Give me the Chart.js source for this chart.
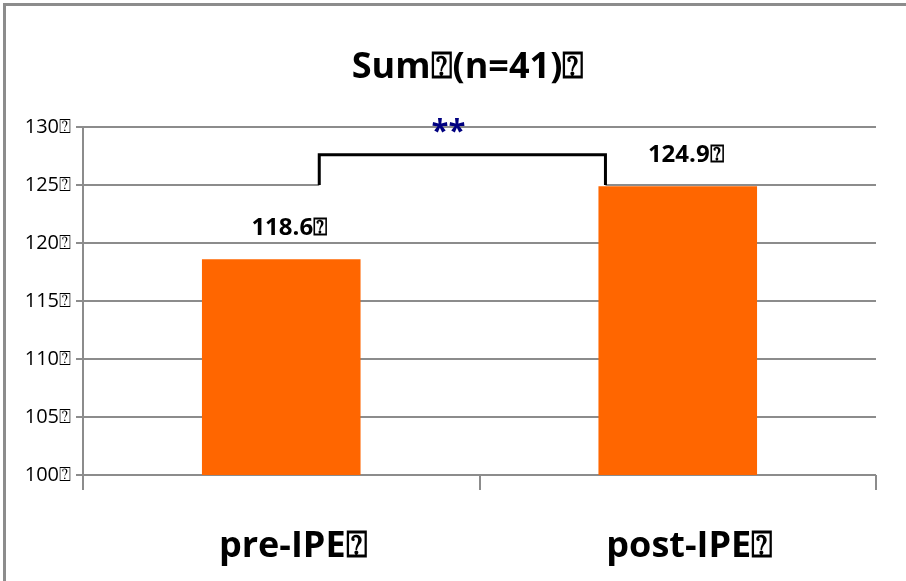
<!DOCTYPE html>
<html>
<head>
<meta charset="utf-8">
<script src="https://cdn.jsdelivr.net/npm/chart.js@4/dist/chart.umd.min.js"></script>
<style>
  html, body { margin: 0; padding: 0; background: #fff; overflow: hidden; }
  #wrap { position: relative; width: 906px; height: 581px; }
  #frame {
    position: absolute; left: 3px; top: 3px; width: 920px; height: 575px;
    border-left: 3px solid #8c8c8c; border-top: 3px solid #8c8c8c;
    border-bottom: 1px solid #ececec; pointer-events: none;
  }
  canvas { position: absolute; left: 0; top: 0; }
</style>
</head>
<body>
<div id="wrap">
  <canvas id="chart" width="906" height="581"></canvas>
  <div id="frame"></div>
</div>
<script>
const BOX = "\u2370"; // broken glyph box as in the original export

const categories = ["pre-IPE" + BOX, "post-IPE" + BOX];
const sumValues = [118.6, 124.9];
const valueLabels = ["118.6" + BOX, "124.9" + BOX];
const chartTitle = "Sum" + BOX + "(n=41)" + BOX;
const signifMark = "**";
const bracketTop = 127.6;
const bracketBottom = 125;

const FONT = "'Open Sans', 'DejaVu Sans', sans-serif";

// title, value labels and the significance bracket
const overlay = {
  id: "overlay",
  beforeDatasetsDraw(chart) {
    const { ctx, scales: { x, y } } = chart;
    const meta = chart.getDatasetMeta(0);
    const left = x.getPixelForValue(0) + 38;
    const right = meta.data[1].x - meta.data[1].width / 2 + 7;
    const top = y.getPixelForValue(bracketTop);
    const bottom = y.getPixelForValue(bracketBottom);
    ctx.save();
    ctx.fillStyle = "#fff";
    ctx.fillRect(left, top, right - left, bottom - top + 3);
    ctx.restore();
  },
  afterDatasetsDraw(chart) {
    const { ctx, scales: { x, y } } = chart;
    const meta = chart.getDatasetMeta(0);
    ctx.save();

    // bracket
    const left = x.getPixelForValue(0) + 38;
    const right = meta.data[1].x - meta.data[1].width / 2 + 7;
    const top = y.getPixelForValue(bracketTop);
    const bottom = y.getPixelForValue(bracketBottom);
    ctx.strokeStyle = "#000";
    ctx.lineWidth = 3;
    ctx.beginPath();
    ctx.moveTo(left, bottom);
    ctx.lineTo(left, top);
    ctx.lineTo(right, top);
    ctx.lineTo(right, bottom);
    ctx.stroke();

    ctx.fillStyle = "#000080";
    ctx.font = "bold 31px " + FONT;
    ctx.textAlign = "center";
    ctx.textBaseline = "middle";
    ctx.fillText(signifMark, (x.getPixelForValue(0) + x.getPixelForValue(1)) / 2 - 31, y.getPixelForValue(129.4) - 2);

    // value labels
    ctx.fillStyle = "#000";
    ctx.font = "bold 24px " + FONT;
    meta.data.forEach((bar, i) => {
      ctx.fillText(valueLabels[i], bar.x + 8, bar.y - 31);
    });

    // title
    ctx.font = "bold 36px " + FONT;
    ctx.fillText(chartTitle, 468, 68);
    ctx.restore();
  }
};

new Chart(document.getElementById("chart"), {
  type: "bar",
  data: {
    labels: categories,
    datasets: [{
      data: sumValues,
      backgroundColor: "#ff6600",
      borderWidth: 0,
      barPercentage: 0.4,
      categoryPercentage: 1
    }]
  },
  options: {
    responsive: false,
    animation: false,
    events: [],
    layout: { padding: { top: 127, right: 30, left: 0, bottom: 0 } },
    plugins: {
      legend: { display: false },
      title: { display: false },
      tooltip: { enabled: false }
    },
    scales: {
      y: {
        min: 100,
        max: 130,
        afterFit(scale) { scale.width = 83; },
        ticks: {
          stepSize: 5,
          color: "#000",
          padding: 5,
          font: { family: FONT, size: 20 },
          callback: (v) => v + BOX
        },
        grid: { color: "#8c8c8c", lineWidth: 2, tickLength: 7 },
        border: { color: "#8c8c8c", width: 2 }
      },
      x: {
        afterFit(scale) { scale.height = 106; },
        ticks: {
          color: "#000",
          padding: 35,
          labelOffset: 12,
          font: { family: FONT, size: 36, weight: "bold" }
        },
        grid: { color: "#8c8c8c", lineWidth: 2, drawOnChartArea: false, tickLength: 15, offset: true },
        border: { display: false }
      }
    }
  },
  plugins: [overlay]
});
</script>
</body>
</html>
